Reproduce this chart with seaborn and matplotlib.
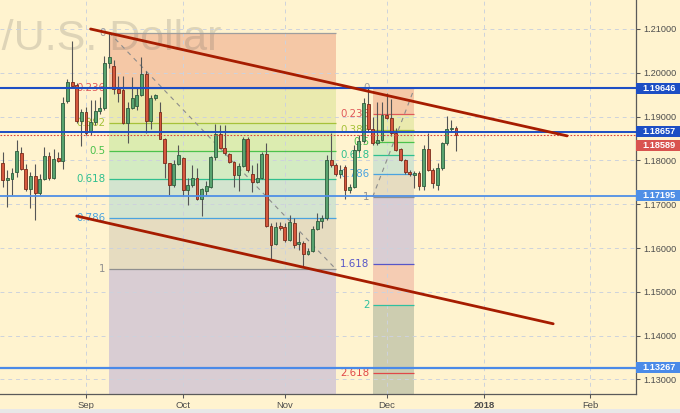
import numpy as np
import pandas as pd
import matplotlib
matplotlib.use('Agg')
import matplotlib.pyplot as plt
import matplotlib.transforms as mtrans
from matplotlib.patches import Rectangle
import seaborn as sns

# ── Данные: дневные свечи EUR/USD ────────────────────────────────────────────
START_DAY = '2017-08-08'

opens = [1.1793, 1.1755, 1.1757, 1.1773, 1.1816, 1.1780, 1.1734, 1.1765, 1.1725, 1.1758,
         1.1811, 1.1759, 1.1806, 1.1799, 1.1935, 1.1980, 1.1972, 1.1889, 1.1910, 1.1866,
         1.1888, 1.1913, 1.1919, 1.2023, 1.2016, 1.1964, 1.1960, 1.1886, 1.1920, 1.1925,
         1.1949, 1.1997, 1.1890, 1.1943, 1.1910, 1.1850, 1.1793, 1.1744, 1.1791, 1.1805,
         1.1732, 1.1744, 1.1759, 1.1711, 1.1730, 1.1740, 1.1808, 1.1860, 1.1829, 1.1814,
         1.1797, 1.1767, 1.1787, 1.1850, 1.1770, 1.1751, 1.1760, 1.1815, 1.1650, 1.1609,
         1.1650, 1.1647, 1.1618, 1.1658, 1.1609, 1.1611, 1.1586, 1.1594, 1.1643, 1.1662,
         1.1668, 1.1801, 1.1790, 1.1769, 1.1784, 1.1732, 1.1739, 1.1824, 1.1844, 1.1929,
         1.1871, 1.1839, 1.1847, 1.1904, 1.1896, 1.1863, 1.1825, 1.1801, 1.1774, 1.1767,
         1.1771, 1.1742, 1.1826, 1.1778, 1.1744, 1.1782, 1.1839, 1.1871, 1.1873]
highs = [1.1820, 1.1778, 1.1783, 1.1847, 1.1831, 1.1792, 1.1774, 1.1792, 1.1770, 1.1830,
         1.1820, 1.1825, 1.1820, 1.1944, 1.1985, 1.2073, 1.1977, 1.1918, 1.1922, 1.1939,
         1.1938, 1.1945, 1.2038, 1.2092, 1.2029, 1.1993, 1.1993, 1.1934, 1.1991, 1.1968,
         1.2036, 1.2003, 1.1950, 1.1952, 1.1934, 1.1852, 1.1795, 1.1801, 1.1835, 1.1808,
         1.1759, 1.1790, 1.1782, 1.1737, 1.1752, 1.1810, 1.1883, 1.1881, 1.1881, 1.1817,
         1.1798, 1.1794, 1.1854, 1.1854, 1.1790, 1.1793, 1.1820, 1.1839, 1.1657, 1.1660,
         1.1660, 1.1657, 1.1675, 1.1668, 1.1637, 1.1616, 1.1599, 1.1650, 1.1680, 1.1675,
         1.1812, 1.1863, 1.1795, 1.1790, 1.1790, 1.1745, 1.1835, 1.1858, 1.1942, 1.1965,
         1.1900, 1.1934, 1.1934, 1.1953, 1.1940, 1.1873, 1.1828, 1.1803, 1.1777, 1.1776,
         1.1775, 1.1835, 1.1862, 1.1782, 1.1794, 1.1843, 1.1901, 1.1892, 1.1878]
lows = [1.1740, 1.1694, 1.1721, 1.1763, 1.1777, 1.1731, 1.1691, 1.1664, 1.1721, 1.1755,
        1.1755, 1.1757, 1.1797, 1.1780, 1.1930, 1.1970, 1.1885, 1.1833, 1.1857, 1.1858,
        1.1880, 1.1905, 1.1916, 1.2011, 1.1952, 1.1934, 1.1883, 1.1839, 1.1918, 1.1915,
        1.1947, 1.1862, 1.1872, 1.1937, 1.1848, 1.1759, 1.1721, 1.1740, 1.1789, 1.1718,
        1.1698, 1.1740, 1.1709, 1.1672, 1.1720, 1.1738, 1.1801, 1.1828, 1.1812, 1.1793,
        1.1739, 1.1731, 1.1786, 1.1774, 1.1729, 1.1748, 1.1758, 1.1649, 1.1573, 1.1607,
        1.1641, 1.1614, 1.1616, 1.1600, 1.1596, 1.1556, 1.1583, 1.1590, 1.1640, 1.1645,
        1.1665, 1.1786, 1.1765, 1.1760, 1.1712, 1.1725, 1.1736, 1.1820, 1.1840, 1.1866,
        1.1835, 1.1835, 1.1845, 1.1894, 1.1855, 1.1822, 1.1799, 1.1770, 1.1765, 1.1737,
        1.1732, 1.1732, 1.1775, 1.1737, 1.1732, 1.1779, 1.1836, 1.1865, 1.1822]
closes = [1.1755, 1.1759, 1.1772, 1.1821, 1.1780, 1.1734, 1.1765, 1.1725, 1.1758, 1.1811,
          1.1759, 1.1803, 1.1799, 1.1930, 1.1980, 1.1971, 1.1889, 1.1910, 1.1863, 1.1888,
          1.1913, 1.1919, 1.2023, 1.2036, 1.1964, 1.1953, 1.1886, 1.1920, 1.1943, 1.1949,
          1.1997, 1.1890, 1.1943, 1.1949, 1.1850, 1.1793, 1.1744, 1.1791, 1.1812, 1.1733,
          1.1744, 1.1759, 1.1711, 1.1734, 1.1742, 1.1808, 1.1860, 1.1829, 1.1818, 1.1797,
          1.1767, 1.1787, 1.1850, 1.1778, 1.1751, 1.1760, 1.1815, 1.1650, 1.1607, 1.1649,
          1.1646, 1.1618, 1.1660, 1.1607, 1.1614, 1.1586, 1.1594, 1.1643, 1.1662, 1.1668,
          1.1801, 1.1790, 1.1769, 1.1778, 1.1732, 1.1739, 1.1824, 1.1844, 1.1930, 1.1871,
          1.1839, 1.1847, 1.1904, 1.1896, 1.1863, 1.1824, 1.1801, 1.1774, 1.1769, 1.1771,
          1.1742, 1.1826, 1.1778, 1.1748, 1.1782, 1.1839, 1.1872, 1.1873, 1.1859]

# месяцы на оси X
month_starts = ['2017-09-01', '2017-10-01', '2017-11-01', '2017-12-01', '2018-01-01', '2018-02-01']
month_labels = ['Sep', 'Oct', 'Nov', 'Dec', '2018', 'Feb']

# уровни Фибоначчи
fib_levels = [0, 0.236, 0.382, 0.5, 0.618, 0.786, 1, 1.618, 2, 2.618, 3.618]
fib_texts  = ['0', '0.236', '0.382', '0.5', '0.618', '0.786', '1', '1.618', '2', '2.618', '3.618']
fib1_dates  = ['2017-09-08', '2017-11-16']   # большая сетка
fib1_prices = [1.2092, 1.1552]
fib2_dates  = ['2017-11-28', '2017-12-11']   # малая сетка
fib2_prices = [1.1965, 1.1717]

# канал (красные наклонные)
upper_dates  = ['2017-09-04', '2018-01-25']
upper_prices = [1.2100, 1.1856]
lower_dates  = ['2017-08-30', '2018-01-22']
lower_prices = [1.1673, 1.1427]

# горизонтальные уровни и метки справа
hlevels      = [1.19646, 1.18657, 1.17195, 1.13267]
hlevel_cols  = ['#1d4ec4', '#1d4ec4', '#4f8fe6', '#4a8ae8']
hlevel_lw    = [1.5, 1.4, 1.3, 1.6]
last_price   = 1.18589

# ── Цвета ────────────────────────────────────────────────────────────────────
BG = '#fff3cf'
GREEN, GREEN_EDGE = '#58a36f', '#2e5c3c'
RED, RED_EDGE = '#d5573d', '#7a2a1a'
level_cols = ['#9e9e9e', '#e05a5a', '#a6c23a', '#4cc24c', '#2fbf8f', '#4aa3df',
              '#8f8f8f', '#5656c8', '#2fc0a0', '#e04848', '#9e9e9e']
zone_cols = ['#f5c8a6', '#eaeaae', '#dcecb0', '#d3ebc2', '#d3e4cf', '#e6dcc0',
             '#d9cdd3', '#f5ccb3', '#cdcdb0', '#cdcdb0']

sns.set_theme(style='white', rc={'axes.facecolor': BG, 'figure.facecolor': BG})
plt.rcParams['font.family'] = ['Liberation Sans', 'DejaVu Sans']

days = pd.bdate_range(START_DAY, '2018-03-01')
def bar_of(d):
    return int(days.searchsorted(pd.Timestamp(d)))

o, h, l, c = map(np.array, (opens, highs, lows, closes))
x = np.arange(len(o))

fig = plt.figure(figsize=(6.8, 4.13), dpi=100)
ax = fig.add_axes([0, 19 / 413, 636 / 680, 394 / 413])
ax.set_xlim(-0.58, 136.9)
ax.set_ylim(1.12667, 1.21662)

# сетка
ax.set_axisbelow('line')
ax.grid(True, color='#cdd2dc', ls=(0, (4, 4)), lw=0.7)

# водяной знак
ax.text(221 / 636, 1 - 50 / 394, 'Euro/U.S. Dollar', transform=ax.transAxes,
        ha='right', va='baseline', fontsize=31, color='#5a5a5a', alpha=0.2,
        zorder=1.2, clip_on=True)

# ── Сетки Фибоначчи ─────────────────────────────────────────────────────────
def draw_fib(dates, prices, n_zones, n_labels):
    x0, x1 = bar_of(dates[0]), bar_of(dates[1])
    p0, p1 = prices
    lv = [p0 + (p1 - p0) * f for f in fib_levels]
    for i in range(n_zones):
        ax.fill_between([x0, x1], lv[i], lv[i + 1], color=zone_cols[i], lw=0, zorder=1)
    for i in range(n_labels):
        ax.hlines(lv[i], x0, x1, color=level_cols[i], lw=0.9, zorder=2.7)
        ax.text(x0 - 0.7, lv[i], fib_texts[i], ha='right', va='center',
                color=level_cols[i], fontsize=7.4, family='DejaVu Sans', zorder=2.8)
    return x0, x1

f1 = draw_fib(fib1_dates, fib1_prices, 7, 7)
f2 = draw_fib(fib2_dates, fib2_prices, 10, 10)

sns.lineplot(x=list(f1), y=fib1_prices, ax=ax, color='#8c8c8c', lw=0.8,
             linestyle=(0, (4, 4)), zorder=2.9)
sns.lineplot(x=list(f2), y=fib2_prices[::-1], ax=ax, color='#8c8c8c', lw=0.8,
             linestyle=(0, (4, 4)), zorder=2.9)

# ── Свечи ───────────────────────────────────────────────────────────────────
up = c >= o
body_lo = np.minimum(o, c)
body_h = np.maximum(np.abs(c - o), 0.00008)
ax.vlines(x, l, h, color='#555555', lw=0.8, zorder=3)
ax.bar(x[up], body_h[up], bottom=body_lo[up], width=0.62, color=GREEN,
       edgecolor=GREEN_EDGE, lw=0.6, zorder=3.5)
ax.bar(x[~up], body_h[~up], bottom=body_lo[~up], width=0.62, color=RED,
       edgecolor=RED_EDGE, lw=0.6, zorder=3.5)

# ── Уровни ──────────────────────────────────────────────────────────────────
for p, col, lw in zip(hlevels, hlevel_cols, hlevel_lw):
    ax.axhline(p, color=col, lw=lw, zorder=4)
ax.axhline(last_price, color='#e0403a', lw=0.8, ls=(0, (1.5, 1.5)), zorder=4)

# канал
sns.lineplot(x=[bar_of(d) for d in upper_dates], y=upper_prices, ax=ax,
             color='#a61c00', lw=2.0, zorder=5)
sns.lineplot(x=[bar_of(d) for d in lower_dates], y=lower_prices, ax=ax,
             color='#a61c00', lw=2.0, zorder=5)

# ── Оси ─────────────────────────────────────────────────────────────────────
ax.yaxis.tick_right()
yt = np.arange(1.13, 1.2101, 0.01)
ax.set_yticks(yt, [f'{v:.5f}' for v in yt])
ax.set_xticks([bar_of(d) for d in month_starts], month_labels)
for t in ax.get_xticklabels():
    if t.get_text() == '2018':
        t.set_fontweight('bold')
ax.tick_params(axis='y', length=3, width=0.75, color='#555555', labelsize=6.6,
               labelcolor='#4d4d4d', pad=2, right=True, left=False)
ax.tick_params(axis='x', length=3, width=0.75, color='#555555', labelsize=6.8,
               labelcolor='#4d4d4d', pad=2, bottom=True)
for s in ['left', 'top']:
    ax.spines[s].set_visible(False)
for s in ['right', 'bottom']:
    ax.spines[s].set_color('#5a5a5a')
    ax.spines[s].set_linewidth(0.9)
ax.set_xlabel('')
ax.set_ylabel('')

# цветные метки цен справа
trans = mtrans.blended_transform_factory(ax.transAxes, ax.transData)
px = (1.21662 - 1.12667) / 394
tags = list(zip(hlevels, hlevel_cols)) + [(last_price, '#d9534f')]
for p, col in tags:
    yc = p - 11 * px if p == last_price else p
    ax.add_patch(Rectangle((1.0, yc - 5.5 * px), 44 / 636, 11 * px, transform=trans,
                           facecolor=col, edgecolor='none', clip_on=False, zorder=10))
    ax.text(1.0 + 6 / 636, yc, f'{p:.5f}', transform=trans, ha='left', va='center',
            color='white', fontsize=6.6, fontweight='bold', clip_on=False, zorder=11)

fig.patches.append(Rectangle((0, 0), 1, 4 / 413, transform=fig.transFigure,
                             facecolor='#e8e8e8', edgecolor='none'))

plt.savefig('out.png', dpi=100, facecolor=BG)
